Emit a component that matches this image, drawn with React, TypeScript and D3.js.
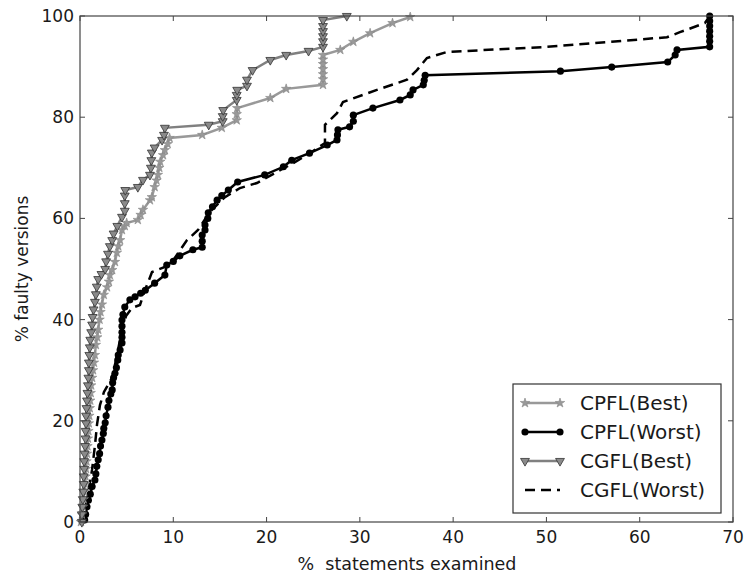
import React, { useEffect, useRef } from "react";
import * as d3 from "d3";

type Pt = [number, number];

const xTicks = [0, 10, 20, 30, 40, 50, 60, 70];
const yTicks = [0, 20, 40, 60, 80, 100];

const cpflBest: Pt[] = [
  [0.1, 0], [0.2, 1.5], [0.3, 3], [0.4, 4.5], [0.45, 6], [0.55, 7.5], [0.6, 9], [0.65, 10.5], [0.7, 12],
  [0.75, 13.5], [0.8, 15], [0.85, 16.5], [0.9, 18], [0.95, 19.5], [1.0, 21], [1.05, 22.5], [1.1, 24],
  [1.15, 25.5], [1.2, 27], [1.3, 28.5], [1.4, 30], [1.5, 31.5], [1.6, 33], [1.7, 35], [1.85, 36.5],
  [1.95, 38], [2.1, 40], [2.2, 41.5], [2.35, 43], [2.55, 44.9], [2.9, 46.4], [3.1, 47.5], [3.2, 48.8],
  [3.45, 49.8], [3.75, 51.4], [3.95, 53.2], [4.1, 54.5], [4.3, 55.7], [4.5, 57.7], [4.8, 58.5], [5.0, 59.1],
  [6.2, 59.7], [6.5, 60.7], [6.75, 61.7], [7.5, 63.6], [7.7, 64.2], [8.0, 66.2], [8.2, 67.5], [8.35, 68.6],
  [8.5, 70], [8.6, 71.2], [8.9, 72.5], [9.1, 73.5], [9.4, 74.7], [9.6, 75.9], [13.1, 76.5], [15.2, 77.9],
  [16.8, 79.4], [16.8, 80.6], [16.85, 81.8], [20.4, 83.8], [22.1, 85.6], [26.05, 86.4], [26.05, 87.5],
  [26.05, 88.5], [26.05, 89.5], [26.05, 90.5], [26.05, 91.4], [26.05, 92.3], [27.9, 93.3], [29.3, 94.9],
  [31.1, 96.6], [33.5, 98.6], [35.4, 99.8],
];

const cpflWorst: Pt[] = [
  [0.5, 0.4], [0.6, 1.5], [0.75, 3], [0.9, 4.3], [1.1, 5.5], [1.3, 7], [1.6, 8.3], [1.7, 9.5], [1.8, 11],
  [1.95, 12.3], [2.1, 13.5], [2.2, 15], [2.35, 16.2], [2.5, 17.5], [2.55, 18.5], [2.7, 19.6], [2.8, 21],
  [3.0, 22.7], [3.1, 24], [3.3, 25.3], [3.45, 26.1], [3.5, 27.5], [3.6, 28.5], [3.75, 29.4], [3.9, 30.5],
  [4.05, 32], [4.1, 33], [4.3, 34], [4.5, 35.4], [4.5, 36.5], [4.5, 37.5], [4.5, 38.7], [4.5, 39.9],
  [4.6, 41], [4.8, 42.5], [5.35, 43.9], [5.9, 44.5], [6.5, 45.2], [7.0, 45.8], [8.0, 47.2], [9.1, 48.8],
  [9.3, 50.8], [10.0, 51.5], [10.7, 52.6], [12.1, 53.8], [13.1, 54.3], [13.1, 55.5], [13.1, 56.7],
  [13.4, 57.7], [13.4, 58.7], [13.7, 60], [13.75, 61.1], [14.2, 62.3], [14.7, 63.6], [15.2, 64.5],
  [15.9, 65.6], [16.9, 67.2], [19.8, 68.6], [21.8, 70.2], [22.7, 71.5], [24.6, 72.9], [26.5, 74.5],
  [27.55, 75.5], [27.6, 76.5], [27.65, 77.5], [28.9, 78.1], [29.3, 79.2], [29.3, 80.4], [31.4, 81.8],
  [34.3, 83.4], [35.4, 84.4], [35.7, 85.4], [36.8, 86.4], [36.9, 87.3], [37.0, 88.3], [51.5, 89.1],
  [57.0, 89.9], [63.0, 90.9], [63.8, 92.3], [64.0, 93.3], [67.5, 93.9], [67.5, 95], [67.5, 96], [67.5, 97],
  [67.5, 98], [67.5, 99], [67.5, 100],
];

const cgflBest: Pt[] = [
  [0.2, 0], [0.2, 1.5], [0.25, 3], [0.3, 4.5], [0.35, 6], [0.4, 7.5], [0.4, 9], [0.45, 10.5], [0.45, 12],
  [0.5, 13.5], [0.55, 15], [0.6, 16.5], [0.6, 18], [0.65, 19.5], [0.65, 21], [0.7, 22.5], [0.75, 24],
  [0.8, 25.5], [0.85, 27], [0.9, 28.5], [0.95, 30], [0.95, 31.5], [1.0, 33], [1.05, 34.5], [1.1, 36],
  [1.2, 37.5], [1.3, 39], [1.35, 40.5], [1.45, 42], [1.6, 43.5], [1.7, 45], [1.8, 46.5], [1.95, 48],
  [2.3, 49], [2.7, 50], [2.8, 51.5], [3.0, 53], [3.2, 54.5], [3.45, 55.7], [3.6, 57], [4.0, 58.5],
  [4.5, 60.3], [4.8, 61.5], [4.8, 63], [4.8, 64.5], [4.85, 65.6], [6.2, 66.2], [6.75, 67.6], [7.5, 68.6],
  [7.6, 70], [7.65, 71.5], [7.7, 73], [8.0, 74], [8.8, 75.5], [9.0, 76.5], [9.1, 77.9], [13.8, 78.5],
  [15.3, 79.2], [15.3, 80.2], [15.35, 81.4], [16.8, 83.4], [16.8, 84.4], [16.85, 85.4], [17.9, 86.2],
  [17.9, 87.4], [18.5, 89.3], [20.4, 91.3], [22.1, 92.3], [24.5, 93.1], [26.05, 93.9], [26.05, 95],
  [26.05, 96], [26.05, 97], [26.05, 98], [26.05, 99.2], [28.6, 100],
];

const cgflWorst: Pt[] = [
  [0.32, 0.2], [0.75, 4.3], [1.29, 10.3], [1.61, 15.2], [1.82, 19.2], [2.14, 23.1], [2.57, 25.7],
  [3.43, 28.5], [3.86, 32.0], [4.18, 35.0], [4.5, 37.9], [4.93, 40.7], [5.57, 42.3], [6.43, 42.9],
  [6.97, 45.8], [7.72, 49.4], [9.65, 50.8], [11.47, 55.7], [12.65, 57.7], [13.93, 61.3], [15.54, 64.2],
  [17.15, 66.0], [18.97, 67.0], [22.83, 70.9], [24.65, 72.9], [26.26, 74.9], [26.26, 78.5], [27.55, 80.8],
  [28.19, 83.0], [31.83, 85.4], [35.05, 87.4], [36.12, 89.3], [37.19, 91.7], [39.34, 92.9], [50.05, 93.9],
  [62.92, 95.8], [64.31, 96.8], [66.99, 98.6], [67.52, 100],
];

const legendLabels = ["CPFL(Best)", "CPFL(Worst)", "CGFL(Best)", "CGFL(Worst)"];

const W = 753;
const H = 577;
const M = { left: 80, right: 733, top: 16, bottom: 522 };
const FONT = "DejaVu Sans, sans-serif";

export default function App() {
  const ref = useRef<SVGSVGElement>(null);

  useEffect(() => {
    const svg = d3.select(ref.current);
    svg.selectAll("*").remove();

    const x = d3.scaleLinear().domain([0, 70]).range([M.left, M.right]);
    const y = d3.scaleLinear().domain([0, 100]).range([M.bottom, M.top]);

    const plot = svg.append("g");
    const line = d3
      .line<Pt>()
      .x((d) => x(d[0]))
      .y((d) => y(d[1]));

    const star = d3.symbol().type(d3.symbolStar).size(28);
    const circ = d3.symbol().type(d3.symbolCircle).size(40);
    const tri = d3.symbol().type(d3.symbolTriangle).size(34);

    // CGFL(Worst) dashed
    plot
      .append("path")
      .datum(cgflWorst)
      .attr("d", line)
      .attr("fill", "none")
      .attr("stroke", "#000")
      .attr("stroke-width", 2.5)
      .attr("stroke-dasharray", "10,6");

    // CPFL(Worst)
    plot
      .append("path")
      .datum(cpflWorst)
      .attr("d", line)
      .attr("fill", "none")
      .attr("stroke", "#000")
      .attr("stroke-width", 2.5);
    plot
      .selectAll(".cw")
      .data(cpflWorst)
      .enter()
      .append("path")
      .attr("d", circ)
      .attr("transform", (d) => `translate(${x(d[0])},${y(d[1])})`)
      .attr("fill", "#000");

    // CPFL(Best)
    plot
      .append("path")
      .datum(cpflBest)
      .attr("d", line)
      .attr("fill", "none")
      .attr("stroke", "#999")
      .attr("stroke-width", 2.5);
    plot
      .selectAll(".cb")
      .data(cpflBest)
      .enter()
      .append("path")
      .attr("d", star)
      .attr("transform", (d) => `translate(${x(d[0])},${y(d[1])})`)
      .attr("fill", "#999")
      .attr("stroke", "#888")
      .attr("stroke-width", 0.6);

    // CGFL(Best)
    plot
      .append("path")
      .datum(cgflBest)
      .attr("d", line)
      .attr("fill", "none")
      .attr("stroke", "#808080")
      .attr("stroke-width", 2.5);
    plot
      .selectAll(".gb")
      .data(cgflBest)
      .enter()
      .append("path")
      .attr("d", tri)
      .attr("transform", (d) => `translate(${x(d[0])},${y(d[1])}) rotate(180)`)
      .attr("fill", "#8a8a8a")
      .attr("stroke", "#333")
      .attr("stroke-width", 0.8);

    // Frame
    svg
      .append("rect")
      .attr("x", M.left)
      .attr("y", M.top)
      .attr("width", M.right - M.left)
      .attr("height", M.bottom - M.top)
      .attr("fill", "none")
      .attr("stroke", "#444")
      .attr("stroke-width", 1.2);

    const tickLen = 5;
    const axes = svg.append("g").attr("stroke", "#444").attr("stroke-width", 1);
    xTicks.forEach((t) => {
      axes.append("line").attr("x1", x(t)).attr("x2", x(t)).attr("y1", M.bottom).attr("y2", M.bottom - tickLen);
      axes.append("line").attr("x1", x(t)).attr("x2", x(t)).attr("y1", M.top).attr("y2", M.top + tickLen);
    });
    yTicks.forEach((t) => {
      axes.append("line").attr("x1", M.left).attr("x2", M.left + tickLen).attr("y1", y(t)).attr("y2", y(t));
      axes.append("line").attr("x1", M.right).attr("x2", M.right - tickLen).attr("y1", y(t)).attr("y2", y(t));
    });

    const txt = svg.append("g").attr("font-family", FONT).attr("fill", "#1a1a1a");
    xTicks.forEach((t) => {
      txt
        .append("text")
        .attr("x", x(t))
        .attr("y", M.bottom + 21)
        .attr("text-anchor", "middle")
        .attr("font-size", 17)
        .text(String(t));
    });
    yTicks.forEach((t) => {
      txt
        .append("text")
        .attr("x", M.left - 6)
        .attr("y", y(t))
        .attr("dy", "0.35em")
        .attr("text-anchor", "end")
        .attr("font-size", 17)
        .text(String(t));
    });
    txt
      .append("text")
      .attr("x", 407)
      .attr("y", 570)
      .attr("text-anchor", "middle")
      .attr("font-size", 17.5)
      .style("white-space", "pre")
      .text("%  statements examined");
    txt
      .append("text")
      .attr("transform", `translate(28,${(M.top + M.bottom) / 2}) rotate(-90)`)
      .attr("text-anchor", "middle")
      .attr("font-size", 17)
      .text("% faulty versions");

    // Legend
    const lg = svg.append("g");
    lg.append("rect")
      .attr("x", 513)
      .attr("y", 384)
      .attr("width", 208)
      .attr("height", 129)
      .attr("fill", "#fff")
      .attr("stroke", "#333")
      .attr("stroke-width", 1.2);
    const rows = [403, 432, 461, 490];
    const lx1 = 525;
    const lx2 = 560;
    // row 0 CPFL(Best)
    lg.append("line").attr("x1", lx1).attr("x2", lx2).attr("y1", rows[0]).attr("y2", rows[0]).attr("stroke", "#999").attr("stroke-width", 2.5);
    [lx1, lx2].forEach((px) =>
      lg.append("path").attr("d", star).attr("transform", `translate(${px},${rows[0]})`).attr("fill", "#999").attr("stroke", "#888").attr("stroke-width", 0.6)
    );
    // row 1 CPFL(Worst)
    lg.append("line").attr("x1", lx1).attr("x2", lx2).attr("y1", rows[1]).attr("y2", rows[1]).attr("stroke", "#000").attr("stroke-width", 2.5);
    [lx1, lx2].forEach((px) => lg.append("path").attr("d", circ).attr("transform", `translate(${px},${rows[1]})`).attr("fill", "#000"));
    // row 2 CGFL(Best)
    lg.append("line").attr("x1", lx1).attr("x2", lx2).attr("y1", rows[2]).attr("y2", rows[2]).attr("stroke", "#808080").attr("stroke-width", 2.5);
    [lx1, lx2].forEach((px) =>
      lg.append("path").attr("d", tri).attr("transform", `translate(${px},${rows[2]}) rotate(180)`).attr("fill", "#8a8a8a").attr("stroke", "#333").attr("stroke-width", 0.8)
    );
    // row 3 CGFL(Worst)
    lg.append("line").attr("x1", lx1).attr("x2", lx2).attr("y1", rows[3]).attr("y2", rows[3]).attr("stroke", "#000").attr("stroke-width", 2.5).attr("stroke-dasharray", "10,6");

    legendLabels.forEach((l, i) => {
      lg.append("text")
        .attr("x", 580)
        .attr("y", rows[i])
        .attr("dy", "0.35em")
        .attr("font-family", FONT)
        .attr("font-size", 20)
        .attr("fill", "#1a1a1a")
        .text(l);
    });
  }, []);

  return (
    <svg
      ref={ref}
      width={W}
      height={H}
      style={{ position: "absolute", left: 0, top: 0, background: "#fff" }}
    />
  );
}
